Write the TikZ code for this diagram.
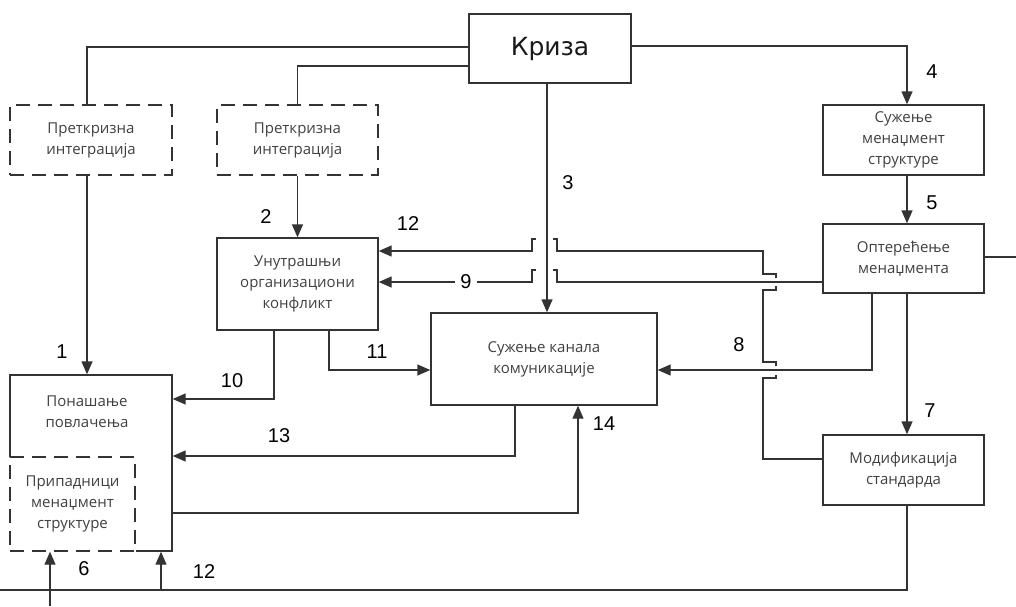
\documentclass[tikz,border=0pt]{standalone}
\usepackage{fontspec}
\setmainfont{Open Sans}
\newfontfamily\numfont{Liberation Sans}
\newfontfamily\krizafont{DejaVu Sans}
\usetikzlibrary{arrows.meta}
\begin{document}
\begin{tikzpicture}[x=1pt,y=-1pt,
  ln/.style={line width=1.4pt, draw=black!80},
  arr/.style={ln, -{Triangle[length=13pt,width=11pt]}},
  box/.style={ln, rectangle, inner sep=0pt, align=center, font=\fontsize{15}{21}\selectfont, text=black!75},
  dbox/.style={box, dash pattern=on 14pt off 8pt},
  num/.style={font=\numfont\fontsize{20}{20}\selectfont, inner sep=1pt, text=black}
]
\useasboundingbox (0,0) rectangle (1016,606);

% boxes
\node[box, minimum width=162pt, minimum height=69pt, font=\krizafont\fontsize{25}{25}\selectfont, text=black!90] (kriza) at (550,48.5) {Криза};
\node[dbox, minimum width=162pt, minimum height=70pt] (pre1) at (91,140) {Преткризна\\интеграција};
\node[dbox, minimum width=161pt, minimum height=70pt] (pre2) at (297.5,140) {Преткризна\\интеграција};
\node[box, minimum width=161pt, minimum height=92pt] (unut) at (297.5,284) {Унутрашњи\\организациони\\конфликт};
\node[box, minimum width=226pt, minimum height=92pt] (kanal) at (544,359) {Сужење канала\\комуникације};
\node[box, minimum width=162pt, minimum height=176pt] (pon) at (91,463) {};
\node[box, draw=none] (pontext) at (87,412) {Понашање\\повлачења};
\node[dbox, fill=white, preaction={draw=white, solid, line width=2.2pt}, minimum width=125pt, minimum height=94pt] (prip) at (72.5,504) {Припадници\\менаџмент\\структуре};
\node[box, minimum width=161pt, minimum height=70pt] (suzm) at (903.5,140) {Сужење\\менаџмент\\структуре};
\node[box, minimum width=161pt, minimum height=69pt] (opt) at (903.5,258.5) {Оптерећење\\менаџмента};
\node[box, minimum width=161pt, minimum height=70pt] (mod) at (903.5,470) {Модификација\\стандарда};

% connectors from Kriza
\draw[ln] ([yshift=1.5pt]kriza.west) -| ([xshift=-4pt]pre1.north);
\draw[ln] ([yshift=-17.5pt]kriza.west) -| (pre2.north);
\draw[arr] ([xshift=-4pt]pre1.south) -- ([xshift=-4pt]pon.north);
\draw[arr] (pre2.south) -- (unut.north);
\draw[arr] ([xshift=-3pt]kriza.south) -- ([xshift=-3pt]kriza.south |- kanal.north);
\draw[arr] ([yshift=2.5pt]kriza.east) -| ([xshift=3.5pt]suzm.north);
\draw[arr] ([xshift=3.5pt]suzm.south) -- ([xshift=3.5pt]opt.north);
\draw[arr] ([xshift=3.5pt]opt.south) -- ([xshift=3.5pt]mod.north);
\draw[arr] ([xshift=-31.5pt]opt.south) |- ([yshift=-11pt]kanal.east);
\coordinate (optend) at (1016,257);
\draw[ln] (opt.east |- optend) -- (optend);

% 9
\draw[ln] (opt.west |- 0,282) -- (557,282) -- (557,270) -- (553,270);
\draw[arr] (536,270) -- (532,270) -- (532,282) -- (unut.east |- 0,282);

% 12 upper (from Modifikacija)
\draw[ln] ([yshift=11pt]mod.west) -- (763,459) -- (763,378) -- (776,378) -- (776,375);
\draw[ln] (776,366) -- (776,362) -- (763,362) -- (763,290) -- (776,290) -- (776,286);
\draw[ln] (776,278) -- (776,274) -- (763,274) -- (763,251) -- (557,251) -- (557,239) -- (553,239);
\draw[arr] (536,239) -- (532,239) -- (532,251) -- (unut.east |- 0,251);

% 10, 11
\draw[arr] ([xshift=-23.5pt]unut.south) |- ([yshift=64pt]pon.east);
\draw[arr] ([xshift=31.5pt]unut.south) |- ([yshift=-11pt]kanal.west);

% 13, 14
\draw[arr] ([xshift=-29pt]kanal.south) |- ([yshift=7pt]pon.east);
\draw[arr] ([yshift=-50pt]pon.east) -| ([xshift=34pt]kanal.south);

% 12 lower
\coordinate (botline) at (0,590);
\draw[arr] ([xshift=3.5pt]mod.south) |- (botline) -| ([xshift=70pt]pon.south);

% 6
\coordinate (sixstart) at (50,606);
\draw[arr] (sixstart) -- (sixstart |- pon.south);

% numbers
\node[num] (n1) at (62,352) {1};
\node[num] (n2) at (266,217) {2};
\node[num] (n3) at (568,183) {3};
\node[num] (n4) at (932,72) {4};
\node[num] (n5) at (932,203) {5};
\node[num] (n6) at (84,569) {6};
\node[num] (n7) at (930,411) {7};
\node[num] (n8) at (739,345) {8};
\node[num, fill=white, inner xsep=5pt] (n9) at (466,282) {9};
\node[num] (n10) at (232,381) {10};
\node[num] (n11) at (377,352) {11};
\node[num] (n12a) at (408,224) {12};
\node[num] (n13) at (279,436) {13};
\node[num] (n14) at (604,424) {14};
\node[num] (n12b) at (204,572) {12};
\end{tikzpicture}
\end{document}
